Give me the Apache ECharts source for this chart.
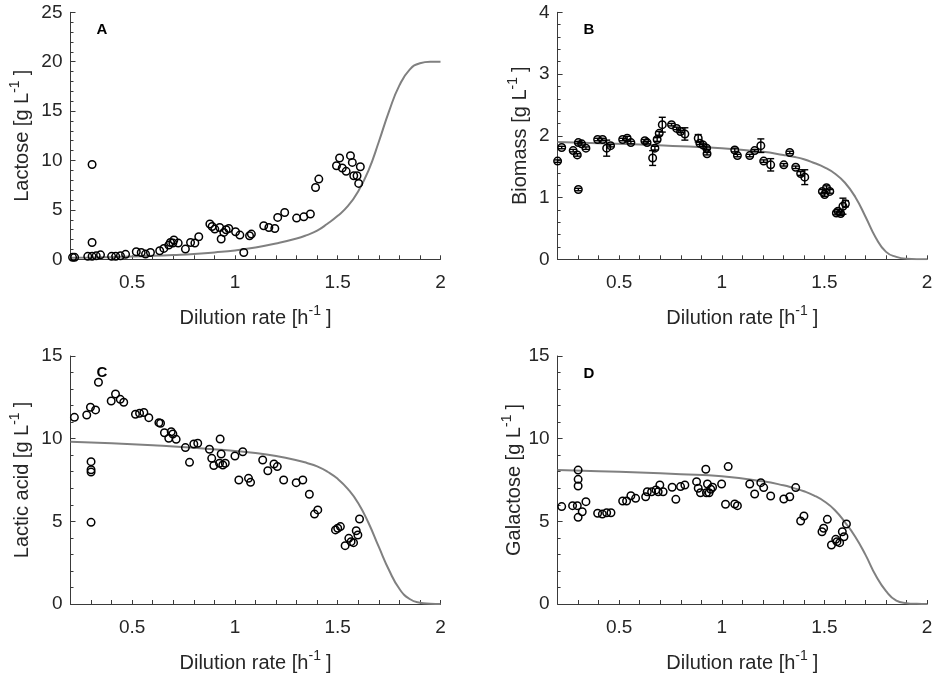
<!DOCTYPE html>
<html>
<head>
<meta charset="utf-8">
<script src="https://cdn.jsdelivr.net/npm/echarts@6/dist/echarts.min.js"></script>
<style>
  html, body { margin: 0; padding: 0; background: #fff; }
  #chart { width: 938px; height: 674px; }
</style>
</head>
<body>
<div id="chart"></div>
<script>
// Dilution-rate experiments: measured concentrations and model curves

// Panel A – lactose
const lactoseD = [0.21,0.22,0.305,0.305,0.284,0.305,0.325,0.346,0.40,0.42,0.443,0.468,0.52,0.544,0.565,0.589,
  0.634,0.654,0.678,0.698,0.703,0.686,0.724,0.759,0.784,0.805,0.824,0.878,0.889,0.902,0.926,0.933,0.946,0.957,0.97,1.003,
  1.024,1.071,1.08,1.043,1.14,1.165,1.194,1.208,1.242,1.30,1.335,1.367,1.392,1.408,
  1.494,1.509,1.522,1.541,1.562,1.571,1.578,1.594,1.61,1.602];
const lactose = [0.2,0.2,9.6,1.7,0.3,0.3,0.35,0.45,0.3,0.3,0.35,0.5,0.76,0.69,0.53,0.69,
  0.86,1.1,1.44,1.64,1.95,1.7,1.64,1.03,1.7,1.64,2.28,3.57,3.32,3.06,3.22,2.05,2.72,2.99,3.12,2.79,
  2.45,2.38,2.55,0.69,3.39,3.22,3.12,4.24,4.74,4.17,4.3,4.58,7.27,8.12,
  9.47,10.25,9.24,8.9,10.49,9.81,8.46,8.46,9.37,7.68];
const lactoseModelD = [0.2,0.3,0.4,0.5,0.6,0.7,0.8,0.9,1.0,1.1,1.2,1.3,1.35,1.4,1.45,1.5,1.55,1.6,1.65,1.7,1.75,1.8,1.85,1.9,1.95,2.0];
const lactoseModel = [0.15,0.18,0.22,0.28,0.35,0.43,0.53,0.7,0.9,1.2,1.6,2.1,2.45,2.9,3.6,4.4,5.4,6.9,9.0,11.9,15.0,17.6,19.2,19.85,20.0,20.0];

// Panel B – biomass (mean and standard deviation)
const biomassD = [0.2,0.22,0.276,0.296,0.301,0.317,0.338,0.301,0.395,0.419,0.439,0.458,0.517,0.539,0.557,0.625,0.636,
  0.663,0.674,0.685,0.695,0.71,0.755,0.78,0.799,0.82,0.885,0.893,0.909,0.926,0.928,
  1.063,1.076,1.136,1.16,1.19,1.204,1.238,1.302,1.331,1.36,1.384,1.404,
  1.49,1.51,1.526,1.501,1.558,1.566,1.579,1.59,1.602];
const biomass = [1.59,1.81,1.76,1.69,1.89,1.87,1.80,1.13,1.94,1.94,1.80,1.84,1.94,1.96,1.89,1.92,1.89,
  1.64,1.80,1.94,2.04,2.18,2.18,2.12,2.07,2.03,1.96,1.88,1.85,1.80,1.71,
  1.77,1.68,1.68,1.76,1.84,1.59,1.53,1.53,1.73,1.49,1.39,1.33,
  1.10,1.16,1.10,1.05,0.75,0.78,0.74,0.86,0.90];
const biomassSd = [0.02,0.02,0.02,0.02,0.02,0.02,0.02,0.02,0.02,0.02,0.13,0.02,0.02,0.03,0.02,0.02,0.02,
  0.12,0.03,0.03,0.03,0.12,0.02,0.02,0.02,0.10,0.06,0.02,0.02,0.02,0.02,
  0.03,0.02,0.02,0.02,0.11,0.02,0.10,0.02,0.02,0.02,0.03,0.12,
  0.03,0.03,0.03,0.03,0.03,0.03,0.03,0.13,0.05];
const biomassModelD = [0.2,0.4,0.6,0.8,1.0,1.2,1.3,1.35,1.4,1.45,1.5,1.55,1.6,1.65,1.7,1.75,1.8,1.85,1.9,2.0];
const biomassModel = [1.90,1.88,1.86,1.83,1.80,1.74,1.69,1.66,1.62,1.56,1.49,1.39,1.24,1.01,0.69,0.35,0.12,0.04,0.01,0];

// Panel C – lactic acid
const lacticD = [0.198,0.219,0.279,0.297,0.322,0.3,0.3,0.3,0.3,0.336,0.398,0.419,0.442,0.459,
  0.516,0.536,0.557,0.581,0.63,0.638,0.657,0.678,0.69,0.698,0.714,0.759,0.779,0.8,0.819,
  0.876,0.887,0.897,0.928,0.933,0.925,0.941,0.953,1.0,1.038,1.019,1.066,1.076,
  1.135,1.16,1.19,1.206,1.237,1.298,1.33,1.362,1.387,1.403,
  1.489,1.5,1.513,1.536,1.554,1.565,1.577,1.59,1.598,1.606];
const lactic = [10.48,11.29,11.43,11.9,11.74,8.61,8.12,7.98,4.94,13.41,12.28,12.7,12.38,12.2,
  11.48,11.54,11.58,11.27,10.97,10.93,10.36,10.02,10.42,10.28,9.96,9.46,8.57,9.68,9.72,
  9.36,8.81,8.37,9.98,9.07,8.51,8.41,8.51,8.95,9.21,7.5,7.6,7.36,
  8.71,8.06,8.47,8.31,7.5,7.34,7.5,6.64,5.44,5.69,
  4.48,4.58,4.68,3.53,3.97,3.77,3.71,4.43,4.17,5.14];
const lacticModelD = [0.2,0.4,0.6,0.8,1.0,1.1,1.2,1.3,1.35,1.4,1.45,1.5,1.55,1.6,1.65,1.7,1.75,1.8,1.85,1.9,1.95,2.0];
const lacticModel = [9.82,9.72,9.6,9.45,9.25,9.13,8.95,8.7,8.53,8.32,8.0,7.57,6.95,6.1,4.9,3.45,2.04,0.92,0.3,0.08,0.02,0];

// Panel D – galactose
const galactoseD = [0.196,0.22,0.273,0.296,0.3,0.3,0.3,0.3,0.32,0.338,0.395,0.418,0.439,0.46,
  0.517,0.536,0.557,0.58,0.629,0.637,0.658,0.679,0.698,0.69,0.714,0.758,0.776,0.799,0.82,
  0.877,0.885,0.896,0.922,0.93,0.925,0.938,0.946,0.955,0.999,1.018,1.031,1.063,1.076,
  1.136,1.16,1.19,1.204,1.238,1.302,1.331,1.36,1.384,1.4,
  1.488,1.496,1.514,1.534,1.555,1.561,1.574,1.587,1.595,1.607];
const galactose = [6.19,5.89,5.95,5.95,8.1,7.54,7.14,5.24,5.58,6.19,5.49,5.44,5.52,5.52,
  6.23,6.23,6.55,6.39,6.49,6.79,6.79,6.9,7.2,6.79,6.79,7.06,6.33,7.1,7.2,
  7.4,7.0,6.73,8.15,7.26,6.73,6.73,6.94,7.06,7.26,6.03,8.31,6.05,5.95,
  7.26,6.65,7.34,7.04,6.53,6.35,6.49,7.04,5.02,5.32,
  4.37,4.58,5.12,3.57,3.91,3.77,3.71,4.37,4.07,4.84];
const galactoseModelD = [0.2,0.4,0.6,0.8,1.0,1.2,1.3,1.35,1.4,1.45,1.5,1.55,1.6,1.65,1.7,1.75,1.8,1.85,1.9,1.95,2.0];
const galactoseModel = [8.1,8.03,7.95,7.85,7.72,7.42,7.18,7.01,6.82,6.56,6.2,5.69,4.94,4.07,2.97,1.72,0.78,0.2,0.05,0.01,0];

// Axis settings
const xTicks = { min: 0.2, max: 2, interval: 0.1 };
const yRanges = [
  { max: 25, interval: 5, title: 'Lactose' },
  { max: 4, interval: 1, title: 'Biomass' },
  { max: 15, interval: 5, title: 'Lactic acid' },
  { max: 15, interval: 5, title: 'Galactose' }
];
const panelLetters = ['A', 'B', 'C', 'D'];

const FONT = '"Liberation Sans", Arial, Helvetica, sans-serif';
const TXT = '#262626';
const AXIS = '#3a3a3a';
const CURVE = '#808080';

const grids = [
  { left: 70.5, top: 12.3, width: 370, height: 247 },
  { left: 557.6, top: 12.3, width: 369.5, height: 247 },
  { left: 70.5, top: 356, width: 370, height: 248 },
  { left: 557.6, top: 356, width: 369.5, height: 248 }
];
const yNameGap = [38, 27, 38, 27];

function zip(xs, ys, es) {
  return xs.map((x, i) => es ? [x, ys[i], es[i]] : [x, ys[i]]);
}

function xLabel(v) {
  const r = Math.round(v * 10) / 10;
  if (r > 0.25 && Math.abs(r * 2 - Math.round(r * 2)) < 1e-9) return String(r);
  return '';
}

// unit exponent drawn raised, as a superscript
const richName = {
  t: { fontSize: 20, fontFamily: FONT, color: TXT, verticalAlign: 'bottom' },
  s: { fontSize: 14, fontFamily: FONT, color: TXT, verticalAlign: 'bottom', padding: [0, 5, 10, 0] }
};

const xAxes = grids.map((g, i) => ({
  type: 'value', gridIndex: i,
  min: xTicks.min, max: xTicks.max, interval: xTicks.interval,
  name: '{t|Dilution rate [h}{s|-1}{t|]}',
  nameLocation: 'middle', nameGap: 45,
  nameTextStyle: { rich: richName },
  axisLine: { show: true, onZero: false, lineStyle: { color: AXIS, width: 1 } },
  axisTick: { show: true, inside: true, length: 4, lineStyle: { color: AXIS } },
  axisLabel: { formatter: xLabel, fontSize: 19, fontFamily: FONT, color: TXT, margin: 14, showMaxLabel: true, showMinLabel: true },
  splitLine: { show: false }
}));

const yAxes = grids.map((g, i) => ({
  type: 'value', gridIndex: i,
  min: 0, max: yRanges[i].max, interval: yRanges[i].interval,
  name: '{t|' + yRanges[i].title + ' [g L}{s|-1}{t|]}',
  nameLocation: 'middle', nameGap: yNameGap[i], nameRotate: 90,
  nameTextStyle: { rich: richName },
  axisLine: { show: true, onZero: false, lineStyle: { color: AXIS, width: 1 } },
  axisTick: { show: true, inside: true, length: 5, lineStyle: { color: AXIS } },
  minorTick: { show: true, splitNumber: 5, length: 3, lineStyle: { color: AXIS } },
  axisLabel: { fontSize: 19, fontFamily: FONT, color: TXT, margin: 8 },
  splitLine: { show: false }
}));

function curveSeries(i, xs, ys) {
  return {
    type: 'line', xAxisIndex: i, yAxisIndex: i,
    data: zip(xs, ys), smooth: 0.5, showSymbol: false, symbol: 'none',
    lineStyle: { color: CURVE, width: 2 }, z: 1
  };
}

function pointSeries(i, xs, ys) {
  return {
    type: 'scatter', xAxisIndex: i, yAxisIndex: i,
    data: zip(xs, ys), symbol: 'circle', symbolSize: 7.5,
    itemStyle: { color: 'rgba(255,255,255,0)', borderColor: '#000', borderWidth: 1.5, opacity: 1 },
    z: 3
  };
}

function renderErr(params, api) {
  const x = api.value(0), y = api.value(1), e = api.value(2);
  const top = api.coord([x, y + e]);
  const bot = api.coord([x, y - e]);
  const w = 3.5;
  const st = { stroke: '#000', lineWidth: 1.4 };
  return {
    type: 'group',
    children: [
      { type: 'line', shape: { x1: top[0], y1: top[1], x2: bot[0], y2: bot[1] }, style: st },
      { type: 'line', shape: { x1: top[0] - w, y1: top[1], x2: top[0] + w, y2: top[1] }, style: st },
      { type: 'line', shape: { x1: bot[0] - w, y1: bot[1], x2: bot[0] + w, y2: bot[1] }, style: st }
    ]
  };
}

const series = [
  curveSeries(0, lactoseModelD, lactoseModel),
  pointSeries(0, lactoseD, lactose),
  curveSeries(1, biomassModelD, biomassModel),
  {
    type: 'custom', xAxisIndex: 1, yAxisIndex: 1,
    data: zip(biomassD, biomass, biomassSd),
    encode: { x: 0, y: 1 }, renderItem: renderErr, z: 4
  },
  pointSeries(1, biomassD, biomass),
  curveSeries(2, lacticModelD, lacticModel),
  pointSeries(2, lacticD, lactic),
  curveSeries(3, galactoseModelD, galactoseModel),
  pointSeries(3, galactoseD, galactose)
];

const letterPos = [[102, 30], [589, 30], [102, 373], [589, 374]];
const graphic = panelLetters.map((L, i) => ({
  type: 'text', x: letterPos[i][0], y: letterPos[i][1], z: 10,
  style: { text: L, font: 'bold 15px ' + FONT, fill: '#000', align: 'center', verticalAlign: 'middle' }
}));

const chart = echarts.init(document.getElementById('chart'), null, { renderer: 'canvas' });
chart.setOption({
  animation: false,
  backgroundColor: '#fff',
  grid: grids,
  xAxis: xAxes,
  yAxis: yAxes,
  series: series,
  graphic: graphic
});
</script>
</body>
</html>
